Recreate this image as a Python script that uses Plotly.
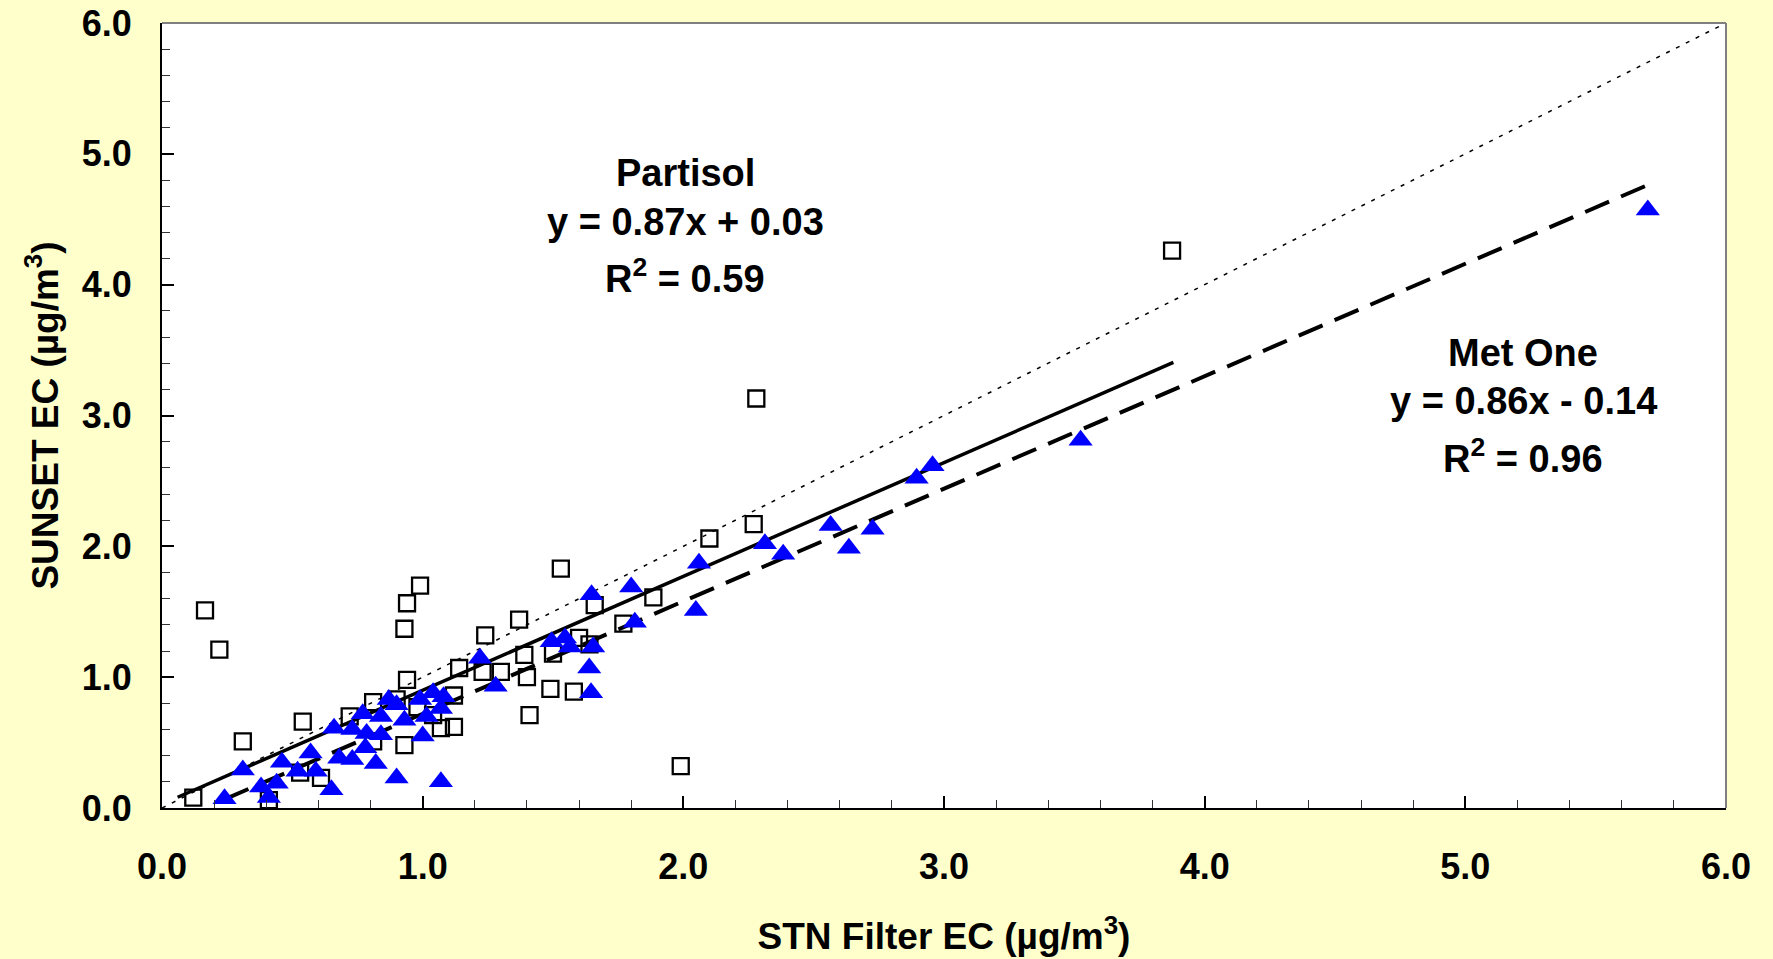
import plotly.graph_objects as go

# Partisol (open squares)
partisol_x = [0.12, 0.165, 0.22, 0.31, 0.41, 0.53, 0.54, 0.61, 0.72, 0.81, 0.81, 0.90,
              0.93, 0.94, 0.99, 0.94, 0.93, 0.98, 1.04, 1.07, 1.12, 1.12, 1.14, 1.24,
              1.23, 1.30, 1.37, 1.39, 1.40, 1.41, 1.49, 1.50, 1.53, 1.58, 1.60, 1.64,
              1.66, 1.77, 1.885, 1.99, 2.10, 2.27, 2.28, 3.875]
partisol_y = [0.08, 1.51, 1.21, 0.51, 0.06, 0.27, 0.66, 0.23, 0.70, 0.81, 0.51, 0.83,
              1.37, 1.565, 1.70, 0.98, 0.48, 0.77, 0.71, 0.61, 0.62, 0.86, 1.07, 1.32,
              1.04, 1.04, 1.44, 1.17, 1.00, 0.71, 0.91, 1.18, 1.83, 0.89, 1.30, 1.25,
              1.55, 1.41, 1.61, 0.32, 2.06, 2.17, 3.13, 4.26]

# Met One (blue triangles)
metone_x = [0.24, 0.31, 0.38, 0.41, 0.44, 0.46, 0.52, 0.57, 0.59, 0.65, 0.66, 0.68,
            0.73, 0.73, 0.77, 0.78, 0.785, 0.82, 0.84, 0.84, 0.87, 0.90, 0.90, 0.93,
            0.99, 1.00, 1.015, 1.04, 1.07, 1.07, 1.08, 1.22, 1.28, 1.495, 1.546, 1.565,
            1.639, 1.648, 1.654, 1.646, 1.80, 1.814, 2.048, 2.06, 2.313, 2.383, 2.565,
            2.635, 2.726, 2.895, 2.956, 3.524, 5.70]
metone_y = [0.07, 0.29, 0.16, 0.08, 0.19, 0.35, 0.28, 0.42, 0.28, 0.14, 0.61, 0.38,
            0.37, 0.60, 0.72, 0.46, 0.57, 0.34, 0.70, 0.56, 0.83, 0.79, 0.23, 0.67,
            0.83, 0.55, 0.70, 0.88, 0.76, 0.20, 0.85, 1.145, 0.93, 1.27, 1.30, 1.23,
            1.07, 1.63, 1.23, 0.88, 1.69, 1.42, 1.51, 1.87, 2.02, 1.94, 2.16,
            1.985, 2.13, 2.52, 2.615, 2.81, 4.57]

# Regression lines (slope, intercept) and the x extent over which they are drawn
partisol_fit = (0.87, 0.03)
partisol_fit_x = [0.06, 3.88]
metone_fit = (0.86, -0.14)
metone_fit_x = [0.24, 5.70]
one_to_one_x = [0.0, 6.0]

tick_vals = [0, 1, 2, 3, 4, 5, 6]
tick_text = ["0.0", "1.0", "2.0", "3.0", "4.0", "5.0", "6.0"]

FONT = "Liberation Sans, Arial, sans-serif"

fig = go.Figure()

# 1:1 line
fig.add_trace(go.Scatter(x=one_to_one_x, y=one_to_one_x, mode="lines",
                         line=dict(color="black", width=1.5, dash="4px,7px"),
                         hoverinfo="skip", showlegend=False))
# Partisol fit
fig.add_trace(go.Scatter(x=partisol_fit_x,
                         y=[partisol_fit[0] * v + partisol_fit[1] for v in partisol_fit_x],
                         mode="lines", line=dict(color="black", width=3.5),
                         showlegend=False))
# Met One fit
fig.add_trace(go.Scatter(x=metone_fit_x,
                         y=[metone_fit[0] * v + metone_fit[1] for v in metone_fit_x],
                         mode="lines", line=dict(color="black", width=4, dash="26px,13px"),
                         showlegend=False))

fig.add_trace(go.Scatter(x=partisol_x, y=partisol_y, mode="markers", name="Partisol",
                         marker=dict(symbol="square-open", size=16, color="black",
                                     line=dict(color="black", width=2.3)),
                         showlegend=False))
fig.add_trace(go.Scatter(x=metone_x, y=metone_y, mode="markers", name="Met One",
                         marker=dict(symbol="triangle-up", size=21, color="#0000FF",
                                     line=dict(width=0)),
                         showlegend=False))

axis_common = dict(
    range=[0, 6], tickvals=tick_vals, ticktext=tick_text,
    ticks="inside", ticklen=12, tickwidth=1.5, tickcolor="black",
    showline=True, linecolor="black", linewidth=2,
    showgrid=False, zeroline=False, automargin=False,
    tickfont=dict(family=FONT, size=36, color="black", weight="bold"),
    minor=dict(ticks="inside", ticklen=8, tickwidth=1.2, tickcolor="#333333", dtick=0.2,
               showgrid=False),
)

fig.update_xaxes(**axis_common, ticklabelstandoff=26,
                 title=dict(text="<b>STN Filter EC (µg/m<sup>3</sup>)</b>",
                            font=dict(family=FONT, size=37, color="black"), standoff=37))
fig.update_yaxes(**axis_common, ticklabelstandoff=21,
                 title=dict(text="<b>SUNSET EC (µg/m<sup>3</sup>)</b>",
                            font=dict(family=FONT, size=37, color="black"), standoff=12))

# gray top and right frame
fig.add_shape(type="line", xref="paper", yref="paper", x0=0, x1=1, y0=1, y1=1,
              line=dict(color="#808080", width=2))
fig.add_shape(type="line", xref="paper", yref="paper", x0=1, x1=1, y0=0, y1=1,
              line=dict(color="#808080", width=2))

ann_font = dict(family=FONT, size=38, color="black")
annotations = [
    ("<b>Partisol</b>", 685, 173),
    ("<b>y = 0.87x + 0.03</b>", 685, 222),
    ("<b>R<sup>2</sup> = 0.59</b>", 685, 276),
    ("<b>Met One</b>", 1523, 353),
    ("<b>y = 0.86x - 0.14</b>", 1523, 401),
    ("<b>R<sup>2</sup> = 0.96</b>", 1523, 456),
]
L, R, T, B = 162, 47, 23, 151
W, H = 1773, 959
pw, ph = W - L - R, H - T - B
for text, px, py in annotations:
    fig.add_annotation(text=text, xref="paper", yref="paper",
                       x=(px - L) / pw, y=1 - (py - T) / ph,
                       xanchor="center", yanchor="middle", showarrow=False, font=ann_font)

fig.update_layout(
    width=W, height=H,
    margin=dict(l=L, r=R, t=T, b=B),
    paper_bgcolor="#FFFFCC", plot_bgcolor="white",
    showlegend=False,
)

fig.write_html("out.html", config={"displayModeBar": False},
               post_script="document.body.style.margin='0';document.body.style.overflow='hidden';")
